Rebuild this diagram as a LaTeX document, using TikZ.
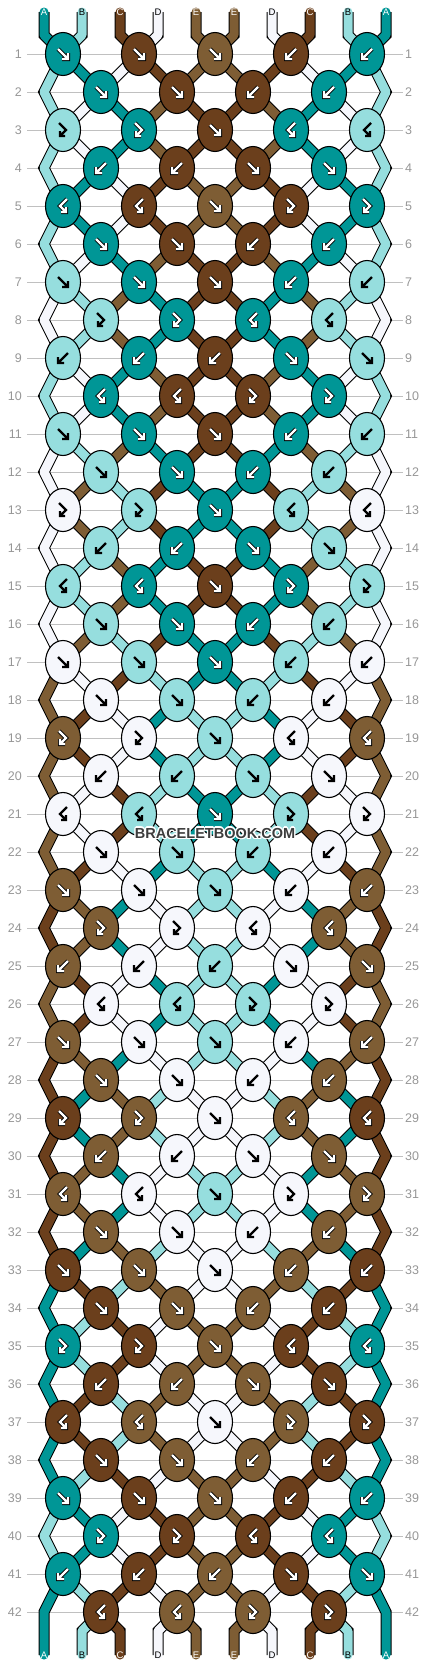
\documentclass[tikz,border=0pt]{standalone}
\usepackage{fontspec}
\setmainfont{Liberation Sans}
\usetikzlibrary{shapes.geometric}

\definecolor{thA}{RGB}{0,150,150}
\definecolor{thB}{RGB}{150,222,222}
\definecolor{thC}{RGB}{107,63,28}
\definecolor{thD}{RGB}{246,247,252}
\definecolor{thE}{RGB}{126,93,52}
\definecolor{rowgray}{RGB}{150,150,150}
\definecolor{linegray}{RGB}{192,192,192}
\definecolor{wmgray}{RGB}{60,60,60}

\pgfdeclarelayer{grid}
\pgfdeclarelayer{threads}
\pgfsetlayers{grid,threads,main}

\newif\ifswap
\def\ktf{\let\colK\colL\swaptrue}
\def\ktb{\let\colK\colR\swaptrue}
\def\ktfb{\let\colK\colL\swapfalse}
\def\ktbf{\let\colK\colR\swapfalse}

\def\inkA{white}\def\inkB{black}\def\inkC{white}\def\inkD{black}\def\inkE{white}
\def\rimA{black}\def\rimB{thB}\def\rimC{black}\def\rimD{thD}\def\rimE{black}

\def\glyphf{(-5,-5) -- (5,5) (-1,5) -- (5,5) -- (5,-1)}
\def\glyphb{(5,-5) -- (-5,5) (1,5) -- (-5,5) -- (-5,-1)}
\def\glyphfb{(-4,-7) -- (3,0) -- (-3,6) (2,6) -- (-3,6) -- (-3,1)}
\def\glyphbf{(4,-7) -- (-3,0) -- (3,6) (-2,6) -- (3,6) -- (3,1)}

\newcommand\knotglyph[3]{%
  \expandafter\let\expandafter\gpath\csname glyph#1\endcsname
  \begin{scope}[shift={(#2.center)}, line join=miter]
    \draw[draw=\csname rim#3\endcsname, line width=4pt] \gpath;
    \draw[draw=\csname ink#3\endcsname, line width=2.2pt] \gpath;
  \end{scope}}

\tikzset{
  knot/.style={ellipse, draw=black, line width=1.1pt, minimum width=35pt, minimum height=43pt, inner sep=0pt},
  thread/.style={draw=th#1, line width=9pt, preaction={draw=black, line width=11pt}, line cap=round, line join=round},
  rownum/.style={text=rowgray, font=\fontsize{12.5}{13}\selectfont, inner sep=0pt},
  strlabel/.style={font=\fontsize{9.5}{10}\selectfont, inner sep=0pt},
  wmark/.style={font=\fontsize{14.5}{15}\selectfont\bfseries, inner sep=0pt}
}

\begin{document}
\begin{tikzpicture}[x=1pt, y=-1pt]
\useasboundingbox (0,0) rectangle (430,1668);

\foreach \rw in {1,...,42}{
  \pgfmathsetmacro\y{54+38*(\rw-1)}
  \node[rownum, anchor=east] (nl\rw) at (22,\y) {\rw};
  \node[rownum, anchor=west] (nr\rw) at (405,\y) {\rw};
  \begin{pgfonlayer}{grid}
    \draw[linegray, line width=0.8pt] ([xshift=5pt]nl\rw.east) -- ([xshift=-2pt]nr\rw.west);
  \end{pgfonlayer}
}

\foreach \c [count=\i] in {A,B,C,D,E,E,D,C,B,A}{
  \pgfmathsetmacro\x{44+38*(\i-1)}
  \node[strlabel, text=\csname ink\c\endcsname] (tl\i) at (\x,12) {\c};
  \node[strlabel, text=\csname ink\c\endcsname] (bl\i) at (\x,1655) {\c};
  \coordinate (tm\i) at (\x,35);
  \coordinate (bm\i) at (\x,1631);
  \expandafter\xdef\csname th\i\endcsname{\c}
  \expandafter\xdef\csname pa\i\endcsname{(tl\i.center) -- (tm\i)}
}

\foreach \ks [count=\rw] in {
  {f,f,f,b,b},{f,f,b,b},{fb,fb,f,bf,bf},{b,b,f,f},{bf,bf,f,fb,fb},{f,f,b,b},
  {f,f,f,b,b},{fb,fb,bf,bf},{b,b,b,f,f},{bf,bf,fb,fb},{f,f,f,b,b},{f,f,b,b},
  {fb,fb,f,bf,bf},{b,b,f,f},{bf,bf,f,fb,fb},{f,f,b,b},{f,f,f,b,b},{f,f,b,b},
  {fb,fb,f,bf,bf},{b,b,f,f},{bf,bf,f,fb,fb},{f,f,b,b},{f,f,f,b,b},{fb,fb,bf,bf},
  {b,b,b,f,f},{bf,bf,fb,fb},{f,f,f,b,b},{f,f,b,b},{fb,fb,f,bf,bf},{b,b,f,f},
  {bf,bf,f,fb,fb},{f,f,b,b},{f,f,f,b,b},{f,f,b,b},{fb,fb,f,bf,bf},{b,b,f,f},
  {bf,bf,f,fb,fb},{f,f,b,b},{f,f,f,b,b},{fb,fb,bf,bf},{b,b,b,f,f},{bf,bf,fb,fb}}{
  \pgfmathtruncatemacro\off{1-mod(\rw,2)}
  \pgfmathsetmacro\y{54+38*(\rw-1)}
  \foreach \ty [count=\kn] in \ks {
    \pgfmathtruncatemacro\pl{2*\kn-1+\off}
    \pgfmathtruncatemacro\pr{\pl+1}
    \pgfmathsetmacro\x{63+76*(\kn-1)+38*\off}
    \edef\colL{\csname th\pl\endcsname}
    \edef\colR{\csname th\pr\endcsname}
    \csname kt\ty\endcsname
    \node[knot, fill=th\colK] (k-\rw-\kn) at (\x,\y) {};
    \knotglyph{\ty}{k-\rw-\kn}{\colK}
    \begin{pgfonlayer}{threads}
      \edef\tmp{\noexpand\draw[thread=\colL] \csname pa\pl\endcsname -- (k-\rw-\kn.center);
        \noexpand\draw[thread=\colR] \csname pa\pr\endcsname -- (k-\rw-\kn.center);}
      \tmp
    \end{pgfonlayer}
    \ifswap
      \expandafter\xdef\csname th\pl\endcsname{\colR}
      \expandafter\xdef\csname th\pr\endcsname{\colL}
    \fi
    \expandafter\xdef\csname pa\pl\endcsname{(k-\rw-\kn.center)}
    \expandafter\xdef\csname pa\pr\endcsname{(k-\rw-\kn.center)}
  }
  \ifnum\off=1
    \coordinate (e-\rw-1) at (44,\y);
    \coordinate (e-\rw-10) at (386,\y);
    \expandafter\xdef\csname pa1\endcsname{\csname pa1\endcsname -- (e-\rw-1)}
    \expandafter\xdef\csname pa10\endcsname{\csname pa10\endcsname -- (e-\rw-10)}
  \fi
}

\begin{pgfonlayer}{threads}
\foreach \i in {1,...,10}{
  \edef\tmp{\noexpand\draw[thread=\csname th\i\endcsname] \csname pa\i\endcsname -- (bm\i) -- (bl\i.center);}
  \tmp
}
\end{pgfonlayer}

\foreach \dx/\dy in {1.3/0,-1.3/0,0/1.3,0/-1.3,1/1,-1/-1,1/-1,-1/1}
  \node[wmark, text=white] at ([xshift=\dx pt, yshift=\dy pt]215,833) {BRACELETBOOK.COM};
\node[wmark, text=wmgray] (wm) at (215,833) {BRACELETBOOK.COM};
\end{tikzpicture}
\end{document}
